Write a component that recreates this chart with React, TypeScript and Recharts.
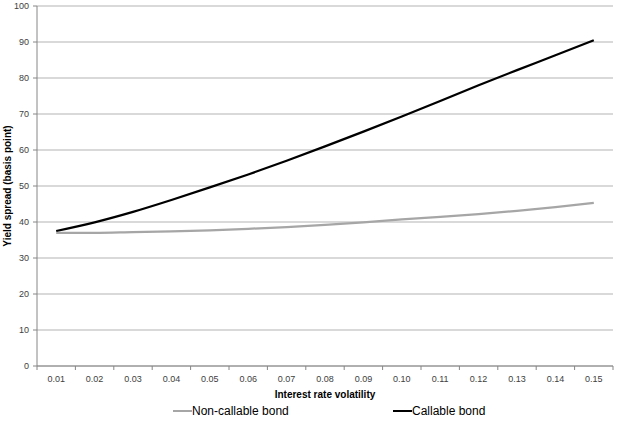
import React from 'react';
import { LineChart, Line, XAxis, YAxis, CartesianGrid, Legend, Label } from 'recharts';

const volatility = ['0.01', '0.02', '0.03', '0.04', '0.05', '0.06', '0.07', '0.08', '0.09', '0.10', '0.11', '0.12', '0.13', '0.14', '0.15'];
const nonCallable = [37.0, 37.0, 37.2, 37.4, 37.7, 38.1, 38.6, 39.2, 39.9, 40.7, 41.4, 42.2, 43.1, 44.1, 45.3];
const callable = [37.5, 39.9, 42.8, 46.1, 49.6, 53.2, 57.0, 61.0, 65.1, 69.3, 73.6, 78.0, 82.2, 86.3, 90.5];
const yTicks = [0, 10, 20, 30, 40, 50, 60, 70, 80, 90, 100];
const seriesNames = ['Non-callable bond', 'Callable bond'];

const data = volatility.map((v, i) => ({ vol: v, nonCallable: nonCallable[i], callable: callable[i] }));

const FONT = '"Liberation Sans", Arial, sans-serif';
const X_TICK_SIZE = 4;
const X_TICK_MARGIN = 6;

const XTick = (props: any) => {
  const { x, y, payload, index, visibleTicksCount, width } = props;
  const band = width / visibleTicksCount;
  const axisY = y - X_TICK_SIZE - X_TICK_MARGIN;
  const left = x - band / 2;
  const right = x + band / 2;
  return (
    <g>
      <line x1={left} x2={left} y1={axisY} y2={axisY + X_TICK_SIZE} stroke="#868686" />
      {index === visibleTicksCount - 1 && (
        <line x1={right} x2={right} y1={axisY} y2={axisY + X_TICK_SIZE} stroke="#868686" />
      )}
      <text x={x} y={y} dy="0.71em" textAnchor="middle" fontSize={9} fill="#404040" fontFamily={FONT}>
        {payload.value}
      </text>
    </g>
  );
};

const YLabel = (props: any) => {
  const { viewBox } = props;
  const cx = viewBox.x + 7;
  const cy = viewBox.y + viewBox.height / 2;
  return (
    <text
      x={cx}
      y={cy}
      transform={`rotate(-90, ${cx}, ${cy})`}
      textAnchor="middle"
      dominantBaseline="central"
      fontSize={10}
      fontWeight="bold"
      fill="#000"
      fontFamily={FONT}
    >
      Yield spread (basis point)
    </text>
  );
};

const legendLefts = [173, 393];

const LegendContent = (props: any) => {
  const { payload } = props;
  const items = [...(payload || [])].sort(
    (a: any, b: any) => seriesNames.indexOf(a.value) - seriesNames.indexOf(b.value)
  );
  return (
    <div style={{ position: 'relative', width: '100%', height: '100%' }}>
      {items.map((entry: any) => (
        <div
          key={entry.value}
          style={{
            position: 'absolute',
            left: legendLefts[seriesNames.indexOf(entry.value)],
            top: 0,
            height: 22,
            display: 'flex',
            alignItems: 'center',
            fontFamily: FONT,
            fontSize: 12,
            color: '#000',
            whiteSpace: 'nowrap',
          }}
        >
          <span style={{ display: 'inline-block', width: 19, height: 2, background: entry.color }} />
          <span>{entry.value}</span>
        </div>
      ))}
    </div>
  );
};

export default function App() {
  return (
    <div style={{ position: 'absolute', left: 0, top: 0, width: 618, height: 429, background: '#fff' }}>
      <LineChart width={618} height={429} data={data} margin={{ top: 6, right: 5, left: 0, bottom: 0 }}>
        <CartesianGrid vertical={false} stroke="#b3b3b3" />
        <XAxis
          dataKey="vol"
          scale="band"
          height={63}
          stroke="#868686"
          tickLine={false}
          tickSize={X_TICK_SIZE}
          tickMargin={X_TICK_MARGIN}
          tick={<XTick />}
          interval={0}
        >
          <Label
            value="Interest rate volatility"
            position="insideBottom"
            offset={31}
            fontSize={10}
            fontWeight="bold"
            fill="#000"
            fontFamily={FONT}
          />
        </XAxis>
        <YAxis
          width={37}
          domain={[0, 100]}
          ticks={yTicks}
          stroke="#868686"
          tickSize={4}
          tickMargin={4}
          tick={{ fontSize: 9, fill: '#404040', fontFamily: FONT }}
          label={<YLabel />}
        />
        <Legend
          verticalAlign="middle"
          wrapperStyle={{ left: 0, top: 400, width: 618, height: 22 }}
          content={<LegendContent />}
        />
        <Line
          type="monotone"
          dataKey="nonCallable"
          name={seriesNames[0]}
          stroke="#a6a6a6"
          strokeWidth={2.25}
          dot={false}
          isAnimationActive={false}
        />
        <Line
          type="monotone"
          dataKey="callable"
          name={seriesNames[1]}
          stroke="#000000"
          strokeWidth={2.25}
          dot={false}
          isAnimationActive={false}
        />
      </LineChart>
    </div>
  );
}
